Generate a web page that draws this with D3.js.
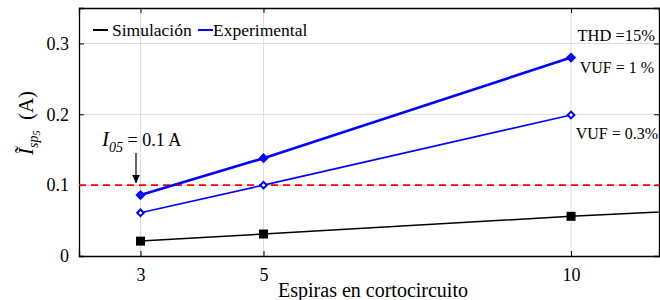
<!DOCTYPE html>
<html>
<head>
<meta charset="utf-8">
<script src="https://cdn.jsdelivr.net/npm/d3@7"></script>
<style>
  body { margin: 0; background: #fff; }
  text { font-family: "Liberation Serif", "Times New Roman", serif; fill: #000; }
</style>
</head>
<body>
<svg id="chart" width="660" height="300"></svg>
<script>
// data
const espiras = [3, 5, 10];
const simEspiras = [3, 5, 10, 12];
const simulacion = [0.021, 0.031, 0.056, 0.0645];
const expVuf1 = [0.086, 0.138, 0.280];
const expVuf03 = [0.061, 0.100, 0.199];
const xTicks = [3, 5, 10];
const yTicks = [0, 0.1, 0.2, 0.3];
const limite = 0.1;

const svg = d3.select('#chart');
const pL = 79, pR = 659, pT = 8, pB = 256;

const x = d3.scaleLinear().domain([2, 11.43]).range([pL, pR]);
const y = d3.scaleLinear().domain([0, 0.35]).range([pB, pT]);

const defs = svg.append('defs');
defs.append('clipPath').attr('id', 'clip')
    .append('rect').attr('x', pL).attr('y', pT)
    .attr('width', pR - pL).attr('height', pB - pT);

// grid
svg.append('g').selectAll('line').data(xTicks).join('line')
    .attr('x1', d => x(d)).attr('x2', d => x(d))
    .attr('y1', pT).attr('y2', pB)
    .attr('stroke', '#dcdcdc').attr('stroke-width', 1);
svg.append('g').selectAll('line').data(yTicks.filter(d => d > 0)).join('line')
    .attr('x1', pL).attr('x2', pR)
    .attr('y1', d => y(d)).attr('y2', d => y(d))
    .attr('stroke', '#dcdcdc').attr('stroke-width', 1);

// axes
const xAxis = svg.append('g').attr('transform', `translate(0,${pB})`)
    .call(d3.axisBottom(x).tickValues(xTicks).tickSize(-5).tickPadding(12).tickFormat(d3.format('d')));
const xTop = svg.append('g').attr('transform', `translate(0,${pT})`)
    .call(d3.axisTop(x).tickValues(xTicks).tickSize(-5).tickFormat(''));
const yAxis = svg.append('g').attr('transform', `translate(${pL},0)`)
    .call(d3.axisLeft(y).tickValues(yTicks).tickSize(-5).tickPadding(10).tickFormat(d => d === 0 ? '0' : d3.format('.1f')(d)));
const yRight = svg.append('g').attr('transform', `translate(${pR},0)`)
    .call(d3.axisRight(y).tickValues(yTicks).tickSize(-5).tickFormat(''));

[xAxis, xTop, yAxis, yRight].forEach(g => {
    g.attr('font-family', '"Liberation Serif", serif');
    g.select('.domain').attr('stroke', '#000').attr('stroke-width', 1.3);
    g.selectAll('.tick line').attr('stroke', '#000');
    g.selectAll('.tick text').attr('font-size', 18);
});

// red limit line
svg.append('line')
    .attr('x1', pL).attr('x2', pR)
    .attr('y1', y(limite)).attr('y2', y(limite))
    .attr('stroke', '#ff0000').attr('stroke-width', 1.6)
    .attr('stroke-dasharray', '7,5');

const plot = svg.append('g').attr('clip-path', 'url(#clip)');

const line = d3.line().x(d => x(d[0])).y(d => y(d[1]));

// simulación
plot.append('path')
    .datum(d3.zip(simEspiras, simulacion))
    .attr('d', line).attr('fill', 'none')
    .attr('stroke', '#000').attr('stroke-width', 1.5);
plot.selectAll('rect.sim').data(d3.zip(espiras, simulacion.slice(0, espiras.length))).join('rect')
    .attr('class', 'sim')
    .attr('x', d => x(d[0]) - 4.5).attr('y', d => y(d[1]) - 4.5)
    .attr('width', 9).attr('height', 9).attr('fill', '#000');

// rotated square diamond
const square = d3.symbol().type(d3.symbolSquare);

// experimental VUF = 0.3 %
plot.append('path')
    .datum(d3.zip(espiras, expVuf03))
    .attr('d', line).attr('fill', 'none')
    .attr('stroke', '#0000ff').attr('stroke-width', 1.6);
plot.selectAll('path.v03').data(d3.zip(espiras, expVuf03)).join('path')
    .attr('class', 'v03')
    .attr('transform', d => `translate(${x(d[0])},${y(d[1])}) rotate(45)`)
    .attr('d', square.size(22)())
    .attr('fill', '#fff').attr('stroke', '#0000ff').attr('stroke-width', 2);

// experimental VUF = 1 %
plot.append('path')
    .datum(d3.zip(espiras, expVuf1))
    .attr('d', line).attr('fill', 'none')
    .attr('stroke', '#0000ff').attr('stroke-width', 2.6);
plot.selectAll('path.v1').data(d3.zip(espiras, expVuf1)).join('path')
    .attr('class', 'v1')
    .attr('transform', d => `translate(${x(d[0])},${y(d[1])}) rotate(45)`)
    .attr('d', square.size(52)())
    .attr('fill', '#0000ff');

// legend
const leg = svg.append('g');
leg.append('line').attr('x1', 93).attr('x2', 108).attr('y1', 30).attr('y2', 30)
    .attr('stroke', '#000').attr('stroke-width', 2);
leg.append('text').attr('x', 112).attr('y', 36).attr('font-size', 17.5).text('Simulación');
leg.append('line').attr('x1', 198).attr('x2', 213).attr('y1', 30).attr('y2', 30)
    .attr('stroke', '#0000ff').attr('stroke-width', 2);
leg.append('text').attr('x', 213).attr('y', 36).attr('font-size', 17.5).text('Experimental');

// right side notes
svg.append('text').attr('x', 655).attr('y', 41).attr('text-anchor', 'end')
    .attr('font-size', 16.5).text('THD =15%');
svg.append('text').attr('x', 654).attr('y', 73).attr('text-anchor', 'end')
    .attr('font-size', 16).text('VUF = 1 %');
svg.append('text').attr('x', 658).attr('y', 139).attr('text-anchor', 'end')
    .attr('font-size', 16).text('VUF = 0.3%');

// I05 annotation
const ann = svg.append('text').attr('x', 102).attr('y', 146).attr('font-size', 18);
ann.append('tspan').attr('font-style', 'italic').attr('font-size', 21).text('I');
ann.append('tspan').attr('font-style', 'italic').attr('font-size', 14).attr('dy', 6).text('05');
ann.append('tspan').attr('dy', -6).text(' = 0.1 A');

defs.append('marker').attr('id', 'arrow')
    .attr('viewBox', '0 0 10 10').attr('refX', 10).attr('refY', 5)
    .attr('markerWidth', 7).attr('markerHeight', 7).attr('orient', 'auto')
    .append('path').attr('d', 'M0,0 L10,5 L0,10 Z').attr('fill', '#000');
svg.append('line').attr('x1', 136).attr('x2', 136).attr('y1', 153).attr('y2', 183)
    .attr('stroke', '#000').attr('stroke-width', 1.2).attr('marker-end', 'url(#arrow)');

// axis titles
svg.append('text').attr('x', 373).attr('y', 297).attr('text-anchor', 'middle')
    .attr('font-size', 20).text('Espiras en cortocircuito');

const yl = svg.append('text')
    .attr('transform', 'translate(33,123) rotate(-90)')
    .attr('text-anchor', 'middle').attr('font-size', 21);
yl.append('tspan').attr('font-style', 'italic').text('Ĩ');
yl.append('tspan').attr('font-style', 'italic').attr('font-size', 14).attr('dy', 5).text('sp');
yl.append('tspan').attr('font-style', 'italic').attr('font-size', 10).attr('dy', 2).text('5');
yl.append('tspan').attr('dy', -7).text('\u2002(A)');
</script>
</body>
</html>
